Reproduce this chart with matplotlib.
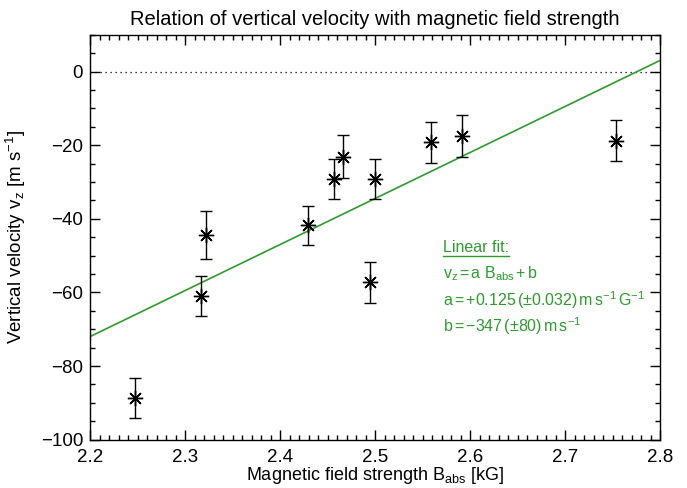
#!/usr/bin/env python

import numpy as np
import matplotlib
matplotlib.use("Agg")
import matplotlib.pyplot as plt
from matplotlib.ticker import MultipleLocator, FuncFormatter
from matplotlib.lines import Line2D

# values
b_abs = [2.247, 2.317, 2.322, 2.429, 2.457, 2.466, 2.495, 2.500, 2.559, 2.592, 2.754]
v_z = [-88.7, -61.0, -44.4, -41.8, -29.1, -23.1, -57.3, -29.2, -19.2, -17.5, -18.8]
v_err = [5.5, 5.4, 6.4, 5.4, 5.4, 5.8, 5.5, 5.4, 5.6, 5.6, 5.5]

# linear fit v_z = a * B_abs + b  (a in m/s per kG here)
fit_a = 125.0
fit_b = -347.0

green = "#2e9b2e"

plt.rcParams["font.family"] = ["Liberation Sans", "DejaVu Sans"]
plt.rcParams["mathtext.fontset"] = "custom"
plt.rcParams["mathtext.rm"] = "Liberation Sans"
plt.rcParams["mathtext.it"] = "Liberation Sans"

fig = plt.figure(figsize=(6.87, 4.88), dpi=100)
ax = fig.add_axes([90 / 687, 1 - 439.7 / 488, 570 / 687, 405 / 488])

ax.axhline(0, color="black", linestyle=(0, (1, 3)), linewidth=0.9)

xs = np.array([2.2, 2.8])
ax.plot(xs, fit_a * xs + fit_b, color=green, linewidth=1.2)

ax.errorbar(b_abs, v_z, yerr=v_err, fmt="none", ecolor="black",
            elinewidth=1.0, capsize=4.5, capthick=1.0)
ax.plot(b_abs, v_z, linestyle="none", marker=(8, 2, 0), markersize=11,
        markeredgecolor="black", markeredgewidth=1.0, color="black")

ax.set_xlim(2.2, 2.8)
ax.set_ylim(-100, 10)
ax.xaxis.set_major_locator(MultipleLocator(0.1))
ax.xaxis.set_minor_locator(MultipleLocator(0.01))
ax.yaxis.set_major_locator(MultipleLocator(20))
ax.yaxis.set_minor_locator(MultipleLocator(5))
ax.tick_params(which="both", direction="in", top=True, right=True,
               labelsize=13.5, width=1.0)
ax.tick_params(which="major", length=7)
ax.tick_params(which="minor", length=3.5)
ax.tick_params(axis="x", pad=7)
ax.tick_params(axis="y", pad=5)
ax.yaxis.set_major_formatter(FuncFormatter(
    lambda v, p: f"{v:.0f}".replace("-", "\u2212")))
for s in ax.spines.values():
    s.set_linewidth(1.0)

ax.set_title("Relation of vertical velocity with magnetic field strength",
             fontsize=14.5, pad=7)
ax.set_xlabel(r"Magnetic field strength B$_{\mathregular{abs}}$ [kG]",
              fontsize=13, labelpad=-1)
ax.set_ylabel(r"Vertical velocity v$_{\mathregular{z}}$ [m s$^{\mathregular{-1}}$]",
              fontsize=13.5, labelpad=9)

lines = [
    "Linear fit:",
    r"v$_{\mathregular{z}}$$\,$=$\,$a B$_{\mathregular{abs}}$$\,$+$\,$b",
    r"a$\,$=$\,$+0.125$\,$($\pm$0.032)$\,$m$\,$s$^{\mathregular{-1}}$$\,$G$^{\mathregular{-1}}$",
    r"b$\,$=$\,$$-$347$\,$($\pm$80)$\,$m$\,$s$^{\mathregular{-1}}$",
]
tx = (443 - 90) / 570
ty = [(439.7 - 247) / 405, (439.7 - 274) / 405, (439.7 - 300) / 405, (439.7 - 326) / 405]
texts = []
for t, y in zip(lines, ty):
    texts.append(ax.text(tx, y, t, transform=ax.transAxes, color=green,
                         fontsize=11.5, va="center", ha="left"))

# underline the heading
fig.canvas.draw()
bb = texts[0].get_window_extent().transformed(ax.transAxes.inverted())
ax.add_line(Line2D([bb.x0, bb.x1], [bb.y0 - 0.004, bb.y0 - 0.004],
                   transform=ax.transAxes, color=green, linewidth=1.0))

fig.savefig("out.png", dpi=100)
